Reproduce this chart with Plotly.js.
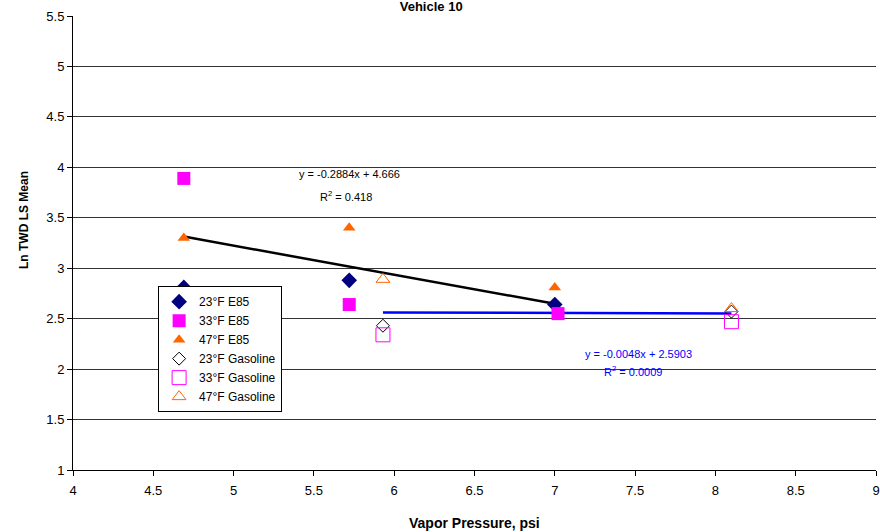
<!DOCTYPE html>
<html>
<head>
<meta charset="utf-8">
<script src="https://cdn.plot.ly/plotly-3.0.1.min.js"></script>
<style>html,body{margin:0;padding:0;background:#fff}#chart{width:880px;height:532px}</style>
</head>
<body>
<div id="chart"></div>
<script>
// Series data (x = vapor pressure, psi; y = Ln TWD LS Mean)
const e85_23_x = [4.69, 5.72, 7.0];
const e85_23_y = [2.81, 2.88, 2.64];
const e85_33_x = [4.69, 5.72, 7.02];
const e85_33_y = [3.89, 2.64, 2.55];
const e85_47_x = [4.69, 5.72, 7.0];
const e85_47_y = [3.30, 3.40, 2.81];
const gas_23_x = [5.93, 8.1];
const gas_23_y = [2.43, 2.57];
const gas_33_x = [5.93, 8.1];
const gas_33_y = [2.34, 2.47];
const gas_47_x = [5.93, 8.1];
const gas_47_y = [2.89, 2.60];

// Trendlines (from printed equations)
const trendE85 = {slope: -0.2884, intercept: 4.666, x: [4.69, 7.0], label: "y = -0.2884x + 4.666", r2: "R<sup>2</sup> = 0.418"};
const trendGas = {slope: -0.0048, intercept: 2.5903, x: [5.93, 8.1], label: "y = -0.0048x + 2.5903", r2: "R<sup>2</sup> = 0.0009"};

const names = ["23°F E85", "33°F E85", "47°F E85", "23°F Gasoline", "33°F Gasoline", "47°F Gasoline"];
const chartTitle = "Vehicle 10";
const xTitle = "Vapor Pressure, psi";
const yTitle = "Ln TWD LS Mean";

const NAVY = "#000080", MAG = "#FF00FF", ORG = "#FF6600";

function line(t, color) {
  return {x: t.x, y: t.x.map(v => t.slope * v + t.intercept), mode: "lines", type: "scatter",
    line: {color: color, width: 2.5}, showlegend: false, hoverinfo: "skip"};
}

const traces = [
  line(trendE85, "#000000"),
  line(trendGas, "#0000FF"),
  {x: e85_23_x, y: e85_23_y, name: names[0], mode: "markers", type: "scatter",
    marker: {symbol: "diamond", color: NAVY, size: 12}},
  {x: e85_33_x, y: e85_33_y, name: names[1], mode: "markers", type: "scatter",
    marker: {symbol: "square", color: MAG, size: 13}},
  {x: e85_47_x, y: e85_47_y, name: names[2], mode: "markers", type: "scatter",
    marker: {symbol: "triangle-up", color: ORG, size: 11}},
  {x: gas_23_x, y: gas_23_y, name: names[3], mode: "markers", type: "scatter",
    marker: {symbol: "diamond-open", color: "#000000", size: 10, line: {width: 1}}},
  {x: gas_33_x, y: gas_33_y, name: names[4], mode: "markers", type: "scatter",
    marker: {symbol: "square-open", color: MAG, size: 14, line: {width: 1}}},
  {x: gas_47_x, y: gas_47_y, name: names[5], mode: "markers", type: "scatter",
    marker: {symbol: "triangle-up-open", color: ORG, size: 12, line: {width: 1}}}
];

const layout = {
  width: 880, height: 532,
  margin: {l: 73, r: 4, t: 16, b: 62},
  paper_bgcolor: "#fff", plot_bgcolor: "#fff",
  font: {family: "Arial, Liberation Sans, sans-serif", size: 12, color: "#000"},
  title: {text: "<b>" + chartTitle + "</b>", x: 0.49, xanchor: "center", y: 1.0, yanchor: "top", yref: "container",
    pad: {t: 2, b: 0}, font: {size: 13, color: "#000"}},
  xaxis: {range: [4, 9], dtick: 0.5, tick0: 4, showgrid: false, zeroline: false,
    showline: true, linecolor: "#000", linewidth: 1, ticks: "outside", ticklen: 5, tickcolor: "#000",
    tickfont: {size: 13}, ticklabelstandoff: 3},
  yaxis: {range: [1, 5.5], dtick: 0.5, tick0: 1, showgrid: true, gridcolor: "#333", gridwidth: 1, zeroline: false,
    showline: true, linecolor: "#000", linewidth: 1, ticks: "outside", ticklen: 5, tickcolor: "#000",
    tickfont: {size: 13}},
  legend: {x: 0.106, y: 0.405, xanchor: "left", yanchor: "top", bgcolor: "#fff",
    bordercolor: "#000", borderwidth: 1, font: {size: 12}, tracegroupgap: 0, itemwidth: 30},
  showlegend: true,
  annotations: [
    {x: 0.5, y: 523, xref: "paper", yref: "paper", text: "<b>" + xTitle + "</b>", showarrow: false,
      font: {size: 14}, xanchor: "center", yanchor: "middle"},
    {x: 5.72, y: 3.93, xref: "x", yref: "y", text: trendE85.label, showarrow: false, font: {size: 11}},
    {x: 5.7, y: 3.72, xref: "x", yref: "y", text: trendE85.r2, showarrow: false, font: {size: 11}},
    {x: 7.52, y: 2.15, xref: "x", yref: "y", text: trendGas.label, showarrow: false, font: {size: 11, color: "#0000FF"}},
    {x: 7.49, y: 1.98, xref: "x", yref: "y", text: trendGas.r2, showarrow: false, font: {size: 11, color: "#0000FF"}}
  ]
};

// convert pixel positions of axis titles into paper coordinates
const plotH = layout.height - layout.margin.t - layout.margin.b;
const plotW = layout.width - layout.margin.l - layout.margin.r;
layout.annotations[0].y = (layout.height - layout.margin.b - 523) / plotH;
layout.annotations.push({
  x: (24 - layout.margin.l) / plotW, y: (layout.height - layout.margin.b - 220) / plotH,
  xref: "paper", yref: "paper", text: "<b>" + yTitle + "</b>", textangle: -90, showarrow: false,
  font: {size: 12}, xanchor: "center", yanchor: "middle"
});

Plotly.newPlot("chart", traces, layout, {displayModeBar: false, staticPlot: true});
</script>
</body>
</html>
